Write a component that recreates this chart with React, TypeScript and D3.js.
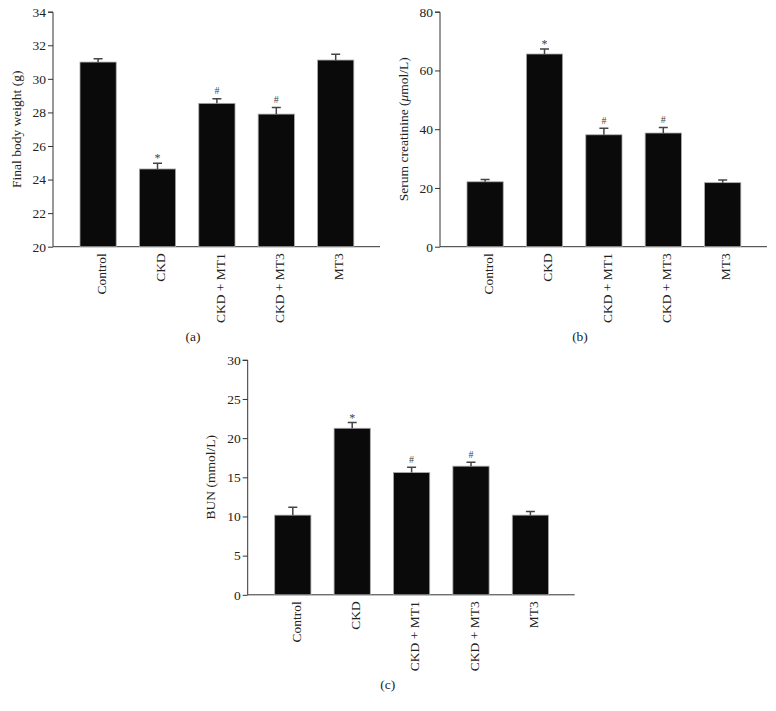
import React, { useRef, useEffect } from "react";
import * as d3 from "d3";

// groups shared by all three panels
const groups = ["Control", "CKD", "CKD + MT1", "CKD + MT3", "MT3"];

// (a) final body weight (g)
const weightMean = [31.0, 24.63, 28.54, 27.9, 31.12];
const weightErr = [0.2, 0.34, 0.27, 0.4, 0.34];
const weightTicks = [20, 22, 24, 26, 28, 30, 32, 34];

// (b) serum creatinine (umol/L)
const creatMean = [22.1, 65.6, 38.1, 38.7, 21.8];
const creatErr = [0.8, 1.7, 2.2, 1.9, 0.9];
const creatTicks = [0, 20, 40, 60, 80];

// (c) BUN (mmol/L)
const bunMean = [10.17, 21.26, 15.6, 16.42, 10.17];
const bunErr = [1.02, 0.72, 0.69, 0.51, 0.46];
const bunTicks = [0, 5, 10, 15, 20, 25, 30];

// significance marks
const weightMarks = ["", "*", "#", "#", ""];
const creatMarks = ["", "*", "#", "#", ""];
const bunMarks = ["", "*", "#", "#", ""];

const FONT = "'Liberation Serif', 'DejaVu Serif', serif";

type Panel = {
  x0: number;
  y0: number;
  means: number[];
  errs: number[];
  ticks: number[];
  marks: string[];
  label: string;
  tag: string;
  unitItalic?: boolean;
};

export default function App() {
  const svgRef = useRef<SVGSVGElement>(null);

  useEffect(() => {
    const svg = d3.select(svgRef.current);
    svg.selectAll("*").remove();

    const H = 235; // plot height
    const W = 327; // x axis length

    const panels: Panel[] = [
      { x0: 53, y0: 11.7, means: weightMean, errs: weightErr, ticks: weightTicks, marks: weightMarks, label: "Final body weight (g)", tag: "(a)" },
      { x0: 440, y0: 11.7, means: creatMean, errs: creatErr, ticks: creatTicks, marks: creatMarks, label: "creat", tag: "(b)", unitItalic: true },
      { x0: 247.7, y0: 359.8, means: bunMean, errs: bunErr, ticks: bunTicks, marks: bunMarks, label: "BUN (mmol/L)", tag: "(c)" },
    ];

    panels.forEach((p) => {
      const g = svg.append("g").attr("transform", `translate(${p.x0},${p.y0})`);

      const y = d3.scaleLinear()
        .domain([p.ticks[0], p.ticks[p.ticks.length - 1]])
        .range([H, 0]);

      const x = d3.scaleBand()
        .domain(groups)
        .range([15.4, 312.4])
        .paddingInner(0.39)
        .paddingOuter(0.195);

      // y axis
      const yAxis = g.append("g")
        .call(d3.axisLeft(y).tickValues(p.ticks).tickSize(5).tickPadding(2).tickFormat(d3.format("d")));
      yAxis.select(".domain").attr("stroke", "#333").attr("d", `M-5,0.5H0V${H}`);
      yAxis.selectAll(".tick line").attr("stroke", "#333");
      yAxis.selectAll("text")
        .attr("font-family", FONT)
        .attr("font-size", "13.5px")
        .attr("fill", "#222");

      // x axis line
      g.append("line")
        .attr("x1", 0).attr("x2", W)
        .attr("y1", H).attr("y2", H)
        .attr("stroke", "#333");

      // bars
      g.selectAll(".bar")
        .data(p.means)
        .join("rect")
          .attr("class", "bar")
          .attr("x", (d, i) => x(groups[i])!)
          .attr("y", (d) => y(d))
          .attr("width", x.bandwidth())
          .attr("height", (d) => H - y(d))
          .attr("fill", "#0a0a0a")
          .attr("stroke", "#aaa")
          .attr("stroke-width", 0.8);

      // error bars (upper only)
      const cx = (i: number) => x(groups[i])! + x.bandwidth() / 2;
      g.selectAll(".err")
        .data(p.means)
        .join("path")
          .attr("class", "err")
          .attr("d", (d, i) => {
            const top = y(d + p.errs[i]);
            return `M${cx(i)},${y(d)}V${top}M${cx(i) - 4.5},${top}H${cx(i) + 4.5}`;
          })
          .attr("stroke", "#444")
          .attr("stroke-width", 1.5)
          .attr("fill", "none");

      // significance marks
      g.selectAll(".mark")
        .data(p.means)
        .join("text")
          .attr("class", "mark")
          .attr("x", (d, i) => cx(i))
          .attr("y", (d, i) => y(d + p.errs[i]) - (p.marks[i] === "*" ? 1 : 4.5))
          .attr("text-anchor", "middle")
          .attr("font-family", FONT)
          .attr("font-size", (d, i) => (p.marks[i] === "*" ? "12px" : "10px"))
          .attr("fill", "#444")
          .text((d, i) => p.marks[i]);

      // category labels
      g.selectAll(".cat")
        .data(groups)
        .join("text")
          .attr("class", "cat")
          .attr("transform", (d, i) => `translate(${cx(i) + 3},${H + 6.5}) rotate(-90)`)
          .attr("dy", "0.35em")
          .attr("text-anchor", "end")
          .attr("font-family", FONT)
          .attr("font-size", "13.5px")
          .attr("fill", "#222")
          .text((d) => d);

      // y axis title
      const t = g.append("text")
        .attr("transform", `translate(-37,${H / 2}) rotate(-90)`)
        .attr("dy", "0.35em")
        .attr("text-anchor", "middle")
        .attr("font-family", FONT)
        .attr("font-size", "13.5px")
        .attr("fill", "#222");
      if (p.unitItalic) {
        t.append("tspan").text("Serum creatinine (");
        t.append("tspan").attr("font-style", "italic").text("μ");
        t.append("tspan").text("mol/L)");
      } else {
        t.text(p.label);
      }

      // panel tag
      g.append("text")
        .attr("x", 140)
        .attr("y", H + 94)
        .attr("text-anchor", "middle")
        .attr("font-family", FONT)
        .attr("font-size", "13.5px")
        .attr("fill", "#222")
        .text(p.tag);
    });
  }, []);

  return (
    <svg
      ref={svgRef}
      width={776}
      height={711}
      style={{ position: "absolute", left: 0, top: 0, background: "#fff" }}
    />
  );
}
